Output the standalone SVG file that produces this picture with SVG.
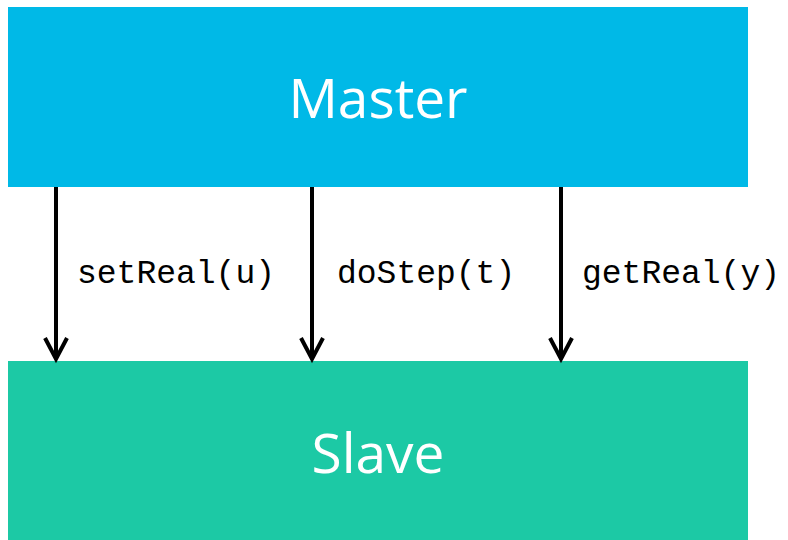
<svg xmlns="http://www.w3.org/2000/svg" width="788" height="540" viewBox="0 0 788 540">
<style>
.node-text{font-family:"Open Sans","Liberation Sans",sans-serif;font-size:55px;fill:#ffffff;text-anchor:middle}
.lbl{font-family:"Liberation Mono","DejaVu Sans Mono",monospace;font-size:33px;fill:#000000}
.conn{stroke:#000000;stroke-width:4;fill:none}
</style>
<defs>
<marker id="arr" markerUnits="userSpaceOnUse" markerWidth="30" markerHeight="30" viewBox="-15 -28 30 30" refX="0" refY="0" orient="auto-start-reverse" overflow="visible">
<path d="M-21,-11 L0,0 L-21,11" transform="rotate(0)" fill="none" stroke="#000" stroke-width="4" stroke-linejoin="miter"/>
</marker>
</defs>
<rect width="788" height="540" fill="#ffffff"/>
<g id="master">
<rect x="8" y="7" width="740" height="180" fill="#00B9E7"/>
<text class="node-text" x="378" y="118">Master</text>
</g>
<g id="slave">
<rect x="8" y="361" width="740" height="179" fill="#1CC9A5"/>
<text class="node-text" x="378" y="473">Slave</text>
</g>
<g id="connectors">
<line class="conn" x1="56" y1="187" x2="56" y2="359" marker-end="url(#arr)"/>
<line class="conn" x1="312" y1="187" x2="312" y2="359" marker-end="url(#arr)"/>
<line class="conn" x1="561" y1="187" x2="561" y2="359" marker-end="url(#arr)"/>
<text class="lbl" x="77" y="283">setReal(u)</text>
<text class="lbl" x="337" y="283">doStep(t)</text>
<text class="lbl" x="582" y="283">getReal(y)</text>
</g>
</svg>
